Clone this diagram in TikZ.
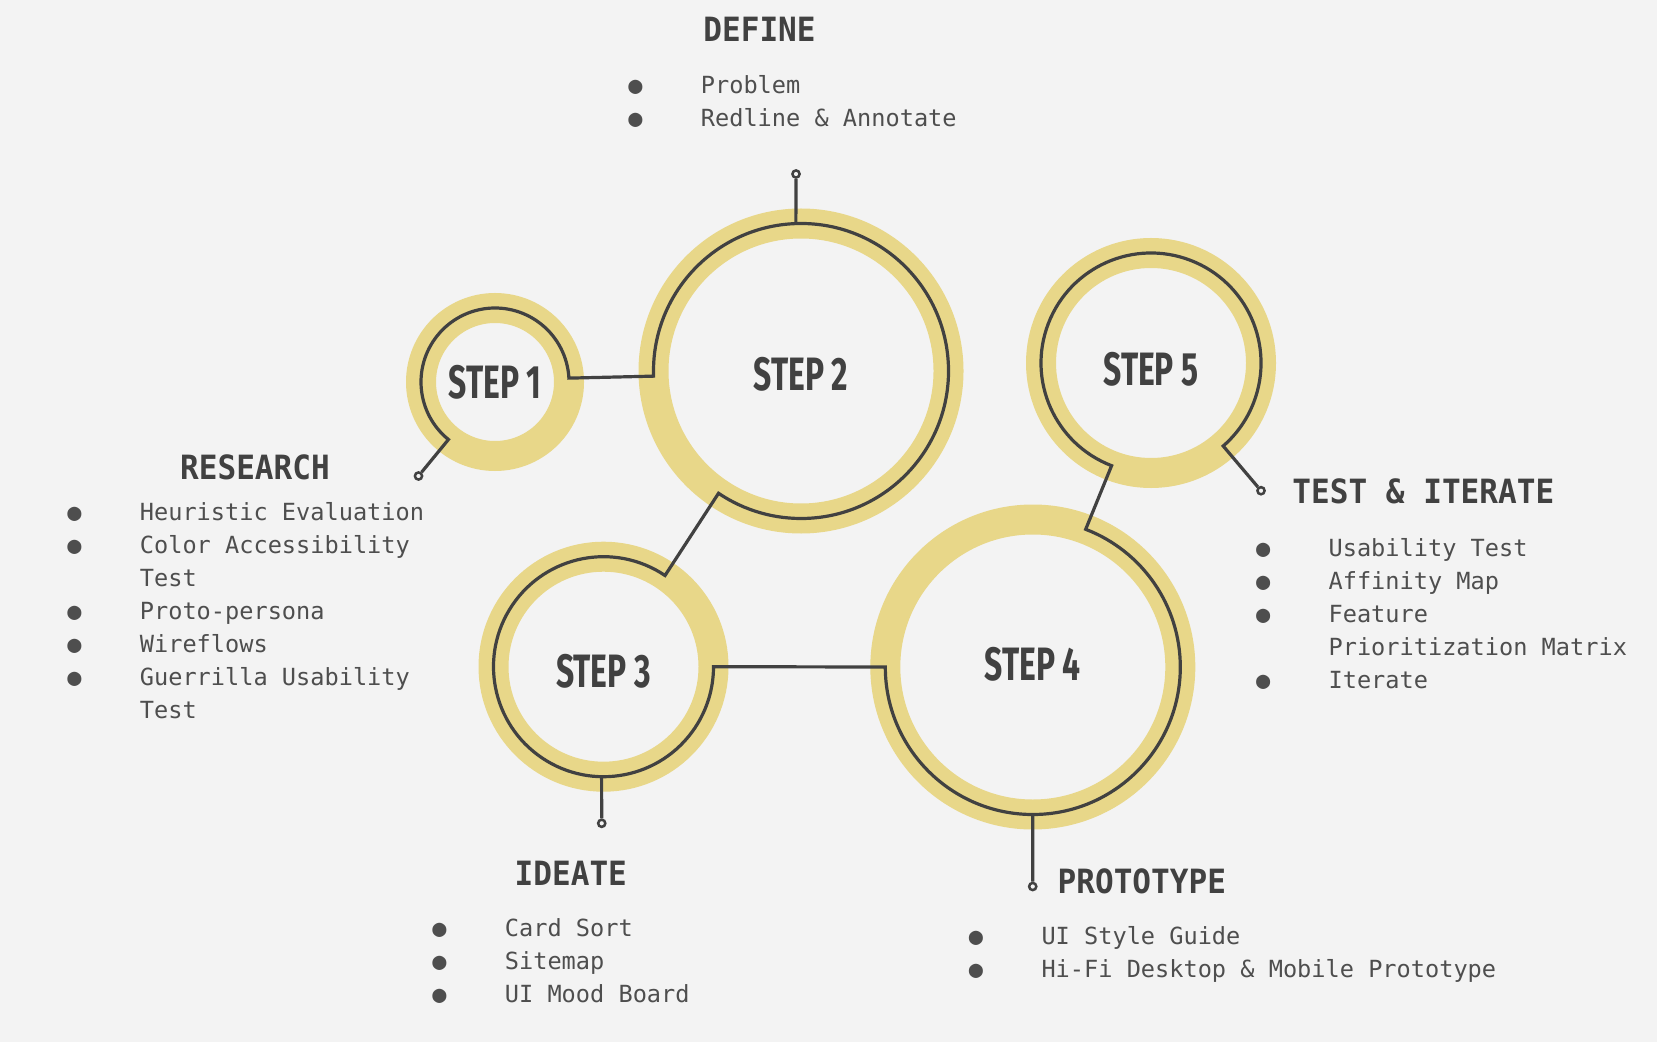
\documentclass[tikz,border=0pt]{standalone}
\usepackage{fontspec}
\newfontfamily\monofont{DejaVu Sans Mono}
\newfontfamily\headfont{DejaVu Sans Mono}[FakeStretch=0.93]
\newfontfamily\stepfont{Fira Sans}[FakeStretch=0.68]

\definecolor{paper}{HTML}{F3F3F3}
\definecolor{ringyellow}{HTML}{E8D789}
\definecolor{inkgray}{HTML}{414141}
\definecolor{textgray}{HTML}{4E4E4E}

\newlength\bulletw
\setlength\bulletw{36.3pt}
\newcommand{\bitem}{\makebox[\bulletw][l]{●}}
\newcommand{\bcont}{\hspace*{\bulletw}}

\begin{document}
\begin{tikzpicture}[
    x=0.5pt, y=0.5pt,
    stepring/.style={circle, inner sep=0pt, outer sep=0pt, minimum size=#1, fill=paper, draw=ringyellow, line width=15pt, text=inkgray, text depth=0pt, text height=16.1pt, font=\stepfont\bfseries\fontsize{23.4}{28}\selectfont},
    wire/.style={draw=inkgray, line width=1.6pt},
    pinhole/.style={circle, draw=inkgray, fill=paper, line width=1.25pt, inner sep=0pt, minimum size=3.6pt},
    headtext/.style={anchor=base, inner sep=0pt, text=inkgray, font=\headfont\bfseries\fontsize{16.7}{20}\selectfont},
    itemlist/.style={anchor=base west, inner sep=0pt, text=textgray, font=\monofont\fontsize{11.8}{16.5}\selectfont}
]
% Page
\useasboundingbox (0,0) rectangle (1657,-1042);
\fill[paper] (0,0) rectangle (1657,-1042);

% Step rings
\node[stepring=74pt] (s1) at (495,-382) {STEP 1};
\node[stepring=147.5pt, text height=19.6pt] (s2) at (801,-371) {STEP 2};
\node[stepring=110pt, text height=20.6pt] (s3) at (603.5,-666.7) {STEP 3};
\node[stepring=147.5pt, text depth=2.2pt] (s4) at (1032.8,-667) {STEP 4};
\node[stepring=110pt, text height=22.3pt] (s5) at (1151,-363) {STEP 5};

% Pins
\node[pinhole] (p1) at (418.5,-476) {};
\node[pinhole] (p2) at (796,-174) {};
\node[pinhole] (p3) at (601.7,-823.3) {};
\node[pinhole] (p4) at (1032.7,-886.5) {};
\node[pinhole] (p5) at (1261,-490.7) {};

% Main wire through all steps
\draw[wire] (p1) -- (s1.231) arc[start angle=231, end angle=3, radius=37pt]
    -- (s2.182) arc[start angle=182, end angle=-124, radius=73.75pt]
    -- (s3.56) arc[start angle=56, end angle=360, radius=55pt]
    -- (s4.180) arc[start angle=180, end angle=429, radius=73.75pt]
    -- (s5.249) arc[start angle=249, end angle=-49, radius=55pt]
    -- (p5);
\draw[wire] (s2.92) -- (p2);
\draw[wire] (s3.269) -- (p3);
\draw[wire] (s4.270) -- (p4);

% Headings
\node[headtext] (define) at (759.5,-41.7) {DEFINE};
\node[headtext] (research) at (255,-479.3) {RESEARCH};
\node[headtext] (testit) at (1423.3,-503.3) {TEST \& ITERATE};
\node[headtext] (ideate) at (570.8,-885) {IDEATE};
\node[headtext] (proto) at (1141.8,-893.3) {PROTOTYPE};

% Lists
\node[itemlist] (definelist) at (627.9,-93.3) {\begin{tabular}[t]{@{}l@{}}
    \bitem Problem\\
    \bitem Redline \& Annotate
\end{tabular}};
\node[itemlist] (researchlist) at (66.9,-520) {\begin{tabular}[t]{@{}l@{}}
    \bitem Heuristic Evaluation\\
    \bitem Color Accessibility\\
    \bcont Test\\
    \bitem Proto-persona\\
    \bitem Wireflows\\
    \bitem Guerrilla Usability\\
    \bcont Test
\end{tabular}};
\node[itemlist] (testlist) at (1255.6,-556.7) {\begin{tabular}[t]{@{}l@{}}
    \bitem Usability Test\\
    \bitem Affinity Map\\
    \bitem Feature\\
    \bcont Prioritization Matrix\\
    \bitem Iterate
\end{tabular}};
\node[itemlist] (ideatelist) at (431.9,-936.7) {\begin{tabular}[t]{@{}l@{}}
    \bitem Card Sort\\
    \bitem Sitemap\\
    \bitem UI Mood Board
\end{tabular}};
\node[itemlist] (protolist) at (968.5,-944.3) {\begin{tabular}[t]{@{}l@{}}
    \bitem UI Style Guide\\
    \bitem Hi-Fi Desktop \& Mobile Prototype
\end{tabular}};

\end{tikzpicture}
\end{document}
